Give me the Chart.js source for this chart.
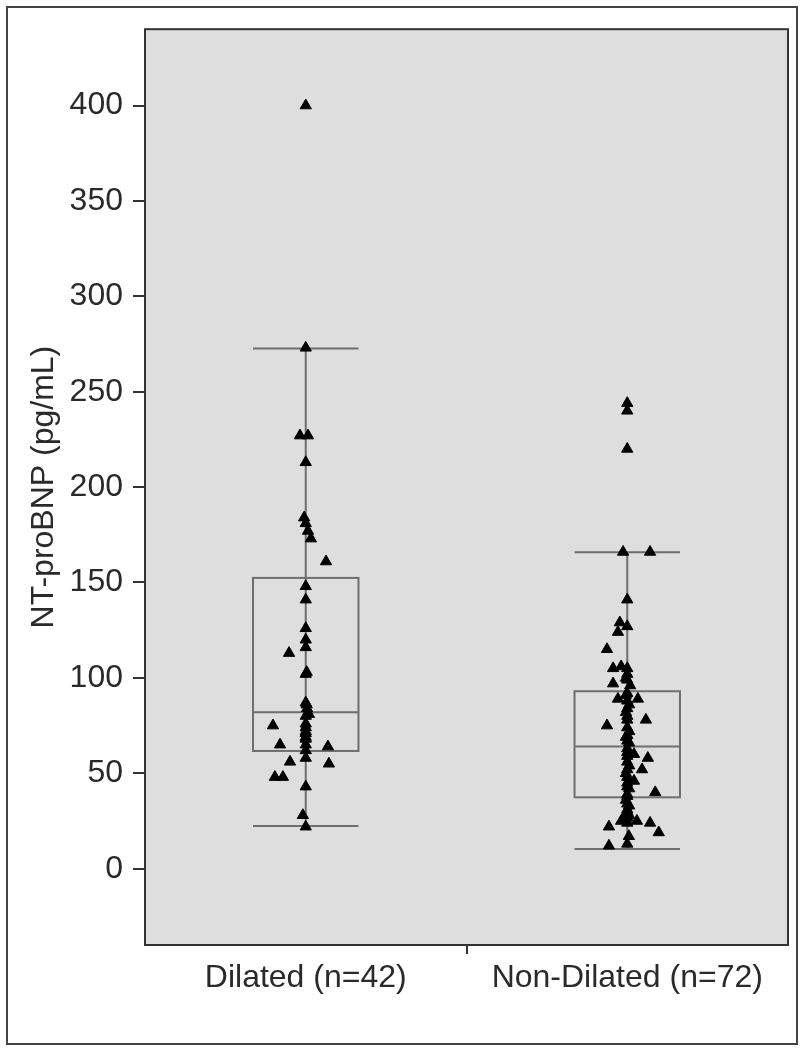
<!DOCTYPE html>
<html lang="en">
<head>
    <meta charset="UTF-8">
    <title>NT-proBNP: Dilated vs Non-Dilated</title>
    <style>
        html, body { margin: 0; padding: 0; background: #fff; }
        #wrap { width: 805px; height: 1050px; }
    </style>
</head>
<body>
    <div id="wrap"><canvas id="chart" width="805" height="1050"></canvas></div>

    <script src="https://cdn.jsdelivr.net/npm/chart.js"></script>
    <script>
        // groups and axis ticks
        const categories = ['Dilated (n=42)', 'Non-Dilated (n=72)'];
        const yTickValues = [0, 50, 100, 150, 200, 250, 300, 350, 400];

        // box plot stats (whisker low, Q1, median, Q3, whisker high)
        const whiskerLow = [22.4, 10.3];
        const quartile1 = [61.7, 37.4];
        const medians = [82, 64.1];
        const quartile3 = [152.4, 93];
        const whiskerHigh = [272.7, 165.8];

        // individual patients; jitter is the sideways offset in category units
        const dilatedValues = [400, 273, 227, 227, 213, 184, 181, 177, 173, 161, 148, 141, 126, 120,
            116, 113, 103, 102, 87, 86, 84, 81, 80, 76, 75, 74, 72, 71, 69, 68, 65, 65, 64, 62,
            58, 56, 55, 48, 48, 43, 28, 22];
        const dilatedJitter = [0, 0, -0.018, 0.007, 0, -0.005, 0, 0.007, 0.016, 0.063, 0, 0, 0, 0,
            0, -0.052, 0.003, 0, 0, 0.003, 0.004, 0.01, 0, 0, -0.102, 0, 0, 0, 0, 0, 0, -0.08, 0.069, 0,
            0, -0.049, 0.072, -0.096, -0.071, 0, -0.009, 0];

        const nonDilatedValues = [244, 240, 220, 166, 166, 141, 129, 127, 124, 115, 106, 105, 105,
            102, 100, 99, 97, 96, 92, 91, 89, 89, 88, 86, 84, 82, 80, 78, 78, 75, 74, 72, 70, 69, 67,
            66, 63, 61, 60, 59, 58, 56, 54, 52, 52, 50, 48, 46, 45, 43, 42, 40, 39, 38, 36, 34, 33,
            31, 30, 29, 28, 27, 26, 25, 25, 24, 24, 22, 19, 17, 13, 12];
        const nonDilatedJitter = [0, 0, 0, -0.013, 0.071, 0, -0.023, 0, -0.029, -0.063, -0.019, -0.044, 0,
            0, -0.004, 0, -0.044, 0.009, 0, -0.004, -0.029, 0.033, 0, 0.006, 0, -0.004, 0, 0.058, 0, -0.063, 0, 0.006, 0, -0.004, 0,
            0.006, 0, 0, 0.021, 0, 0.064, 0, 0.006, 0, 0.046, -0.004, 0, 0.021, 0, 0, 0.006, 0.087, 0, 0, -0.004, 0, 0.006,
            0, 0, -0.004, 0.006, 0, -0.004, -0.019, 0.03, 0, 0.071, -0.057, 0.098, 0.005, 0, -0.057];

        const boxHalfWidth = 0.164;
        const fontFamily = '"Liberation Sans", Arial, sans-serif';

        const toPoints = (values, jitter, group) =>
            values.map((v, i) => ({ x: group + jitter[i], y: v }));

        const boxPlotPlugin = {
            id: 'boxPlot',
            beforeDraw(chart) {
                const { ctx, chartArea } = chart;
                ctx.save();
                ctx.fillStyle = '#fff';
                ctx.fillRect(0, 0, chart.width, chart.height);
                ctx.strokeStyle = '#444';
                ctx.lineWidth = 2;
                ctx.strokeRect(7, 7, 790, 1037);
                ctx.fillStyle = '#dedede';
                ctx.fillRect(chartArea.left, chartArea.top,
                    chartArea.right - chartArea.left, chartArea.bottom - chartArea.top);
                ctx.restore();
            },
            beforeDatasetsDraw(chart) {
                const { ctx } = chart;
                const x = chart.scales.x;
                const y = chart.scales.y;
                ctx.save();
                ctx.strokeStyle = '#6e6e6e';
                ctx.lineWidth = 2;
                categories.forEach((c, i) => {
                    const cx = x.getPixelForValue(i);
                    const l = x.getPixelForValue(i - boxHalfWidth);
                    const r = x.getPixelForValue(i + boxHalfWidth);
                    const yLow = y.getPixelForValue(whiskerLow[i]);
                    const yQ1 = y.getPixelForValue(quartile1[i]);
                    const yMed = y.getPixelForValue(medians[i]);
                    const yQ3 = y.getPixelForValue(quartile3[i]);
                    const yHigh = y.getPixelForValue(whiskerHigh[i]);

                    ctx.beginPath();
                    // whiskers and caps
                    ctx.moveTo(cx, yHigh); ctx.lineTo(cx, yLow);
                    ctx.moveTo(l, yHigh); ctx.lineTo(r, yHigh);
                    ctx.moveTo(l, yLow); ctx.lineTo(r, yLow);
                    // median
                    ctx.moveTo(l, yMed); ctx.lineTo(r, yMed);
                    ctx.stroke();
                    ctx.strokeRect(l, yQ3, r - l, yQ1 - yQ3);
                });
                ctx.restore();
            },
            afterDraw(chart) {
                const { ctx, chartArea } = chart;
                ctx.save();
                ctx.strokeStyle = '#333';
                ctx.lineWidth = 2;
                ctx.strokeRect(chartArea.left, chartArea.top,
                    chartArea.right - chartArea.left, chartArea.bottom - chartArea.top);
                ctx.restore();
            }
        };

        const pointStyle = {
            type: 'scatter',
            pointStyle: 'triangle',
            pointRadius: 6.5,
            pointHoverRadius: 6.5,
            backgroundColor: '#000',
            borderColor: '#000',
            borderWidth: 1,
        };

        new Chart(document.getElementById('chart').getContext('2d'), {
            type: 'scatter',
            data: {
                datasets: [
                    { ...pointStyle, label: categories[0], data: toPoints(dilatedValues, dilatedJitter, 0) },
                    { ...pointStyle, label: categories[1], data: toPoints(nonDilatedValues, nonDilatedJitter, 1) },
                ],
            },
            options: {
                responsive: false,
                animation: false,
                devicePixelRatio: 1,
                layout: { padding: { top: 27, right: 17, left: 0, bottom: 0 } },
                plugins: {
                    legend: { display: false },
                    tooltip: { enabled: false },
                },
                scales: {
                    x: {
                        type: 'linear',
                        min: -0.5,
                        max: 1.5,
                        afterBuildTicks: (s) => { s.ticks = [0, 0.5, 1].map(v => ({ value: v })); },
                        afterFit: (s) => { s.height = 105; },
                        border: { display: false },
                        grid: {
                            drawOnChartArea: false,
                            tickLength: 9,
                            lineWidth: 2,
                            tickColor: (ctx) => (ctx.tick && ctx.tick.value === 0.5 ? '#333' : 'rgba(0,0,0,0)'),
                        },
                        ticks: {
                            autoSkip: false,
                            maxRotation: 0,
                            padding: 5,
                            color: '#2a2a2a',
                            font: { family: fontFamily, size: 32 },
                            callback: (v) => (v === 0 ? categories[0] : v === 1 ? categories[1] : ''),
                        },
                    },
                    y: {
                        min: -40,
                        max: 440,
                        afterBuildTicks: (s) => { s.ticks = yTickValues.map(v => ({ value: v })); },
                        afterFit: (s) => { s.width = 145; },
                        border: { display: false },
                        grid: {
                            drawOnChartArea: false,
                            tickLength: 12,
                            lineWidth: 2,
                            tickColor: '#333',
                        },
                        ticks: {
                            padding: 10,
                            color: '#2a2a2a',
                            font: { family: fontFamily, size: 32 },
                        },
                        title: {
                            display: true,
                            text: 'NT-proBNP (pg/mL)',
                            color: '#2a2a2a',
                            font: { family: fontFamily, size: 32 },
                            padding: { top: 25, bottom: 0 },
                        },
                    },
                },
            },
            plugins: [boxPlotPlugin],
        });
    </script>
</body>
</html>
